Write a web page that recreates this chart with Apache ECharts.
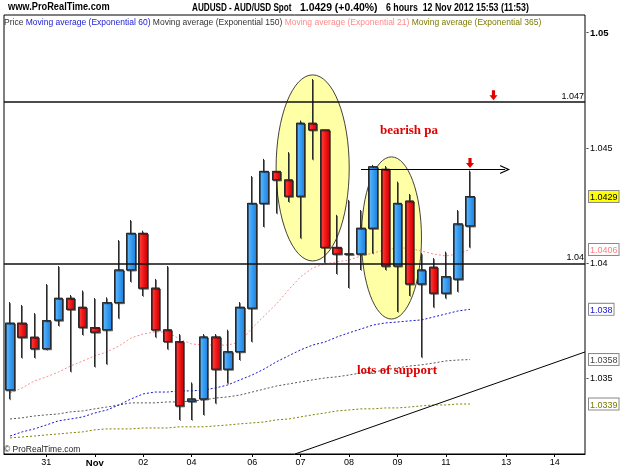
<!DOCTYPE html>
<html>
<head>
<meta charset="utf-8">
<title>AUDUSD - AUD/USD Spot 6 hours</title>
<script src="https://cdn.jsdelivr.net/npm/echarts@6/dist/echarts.min.js"></script>
<style>
  html, body { margin: 0; padding: 0; background: #fff; }
  #chart { width: 625px; height: 469px; }
</style>
</head>
<body>
<div id="chart"></div>
<script>
// AUD/USD, 6 hour bars, 30 Oct - 12 Nov 2012 (x = bar slot)
const opens = [1.03450, 1.03740, 1.03679, 1.03629, 1.03753, 1.03848, 1.03809, 1.03721, 1.03711, 1.03829,
  1.03971, 1.04130, 1.03892, 1.03711, 1.03660, 1.03401, 1.03411, 1.03680, 1.03540, 1.03616,
  1.03805, 1.04260, 1.04399, 1.04362, 1.04291, 1.04608, 1.04579, 1.04069, 1.04040, 1.04040,
  1.04152, 1.04408, 1.03988, 1.04270, 1.03910, 1.03983, 1.03870, 1.03931, 1.04162];
const highs = [1.03831, 1.03819, 1.03783, 1.03910, 1.03988, 1.03862, 1.03881, 1.03849, 1.03851, 1.04101,
  1.04188, 1.04141, 1.03932, 1.03988, 1.03692, 1.03482, 1.03692, 1.03692, 1.03711, 1.03831,
  1.04379, 1.04453, 1.04399, 1.04482, 1.04619, 1.04800, 1.04579, 1.04210, 1.04275, 1.04231,
  1.04427, 1.04422, 1.04354, 1.04301, 1.04043, 1.04022, 1.04050, 1.04231, 1.04402];
const lows = [1.03410, 1.03590, 1.03590, 1.03625, 1.03729, 1.03530, 1.03689, 1.03551, 1.03562, 1.03761,
  1.03920, 1.03858, 1.03679, 1.03627, 1.03320, 1.03320, 1.03342, 1.03392, 1.03479, 1.03580,
  1.03660, 1.04159, 1.04217, 1.04267, 1.04109, 1.04451, 1.04003, 1.03954, 1.03893, 1.03971,
  1.04043, 1.03971, 1.03790, 1.03859, 1.03592, 1.03809, 1.03848, 1.03877, 1.04069];
const closes = [1.03740, 1.03679, 1.03629, 1.03751, 1.03848, 1.03800, 1.03722, 1.03701, 1.03829, 1.03971,
  1.04130, 1.03892, 1.03711, 1.03660, 1.03381, 1.03411, 1.03680, 1.03540, 1.03616, 1.03809,
  1.04260, 1.04399, 1.04362, 1.04291, 1.04608, 1.04579, 1.04069, 1.04040, 1.04040, 1.04152,
  1.04419, 1.03988, 1.04260, 1.03910, 1.03971, 1.03870, 1.03942, 1.04171, 1.04290];

// moving averages
const ema21 = [1.03437, 1.03459, 1.03489, 1.03507, 1.03528, 1.03554, 1.03576, 1.03598, 1.03615, 1.03641,
  1.03676, 1.03693, 1.03702, 1.03702, 1.03671, 1.03650, 1.03645, 1.03645, 1.03645, 1.03658,
  1.03719, 1.03771, 1.03823, 1.03884, 1.03941, 1.03980, 1.03997, 1.04006, 1.04014, 1.04032,
  1.04045, 1.04058, 1.04066, 1.04066, 1.04053, 1.04040, 1.04032, 1.04040, 1.04060];
const ema60 = [1.03250, 1.03268, 1.03281, 1.03298, 1.03316, 1.03324, 1.03333, 1.03350, 1.03363, 1.03385,
  1.03411, 1.03433, 1.03441, 1.03441, 1.03446, 1.03446, 1.03450, 1.03459, 1.03472, 1.03494,
  1.03515, 1.03541, 1.03572, 1.03598, 1.03624, 1.03645, 1.03658, 1.03680, 1.03698, 1.03715,
  1.03732, 1.03741, 1.03745, 1.03750, 1.03754, 1.03767, 1.03780, 1.03793, 1.03800];
const ema150 = [1.03324, 1.03329, 1.03337, 1.03342, 1.03346, 1.03355, 1.03359, 1.03368, 1.03376, 1.03385,
  1.03394, 1.03394, 1.03394, 1.03398, 1.03398, 1.03402, 1.03407, 1.03415, 1.03420, 1.03428,
  1.03441, 1.03454, 1.03467, 1.03476, 1.03485, 1.03494, 1.03502, 1.03507, 1.03515, 1.03524,
  1.03528, 1.03537, 1.03546, 1.03554, 1.03559, 1.03567, 1.03576, 1.03580, 1.03582];
const ema365 = [1.03242, 1.03246, 1.03250, 1.03255, 1.03259, 1.03264, 1.03268, 1.03277, 1.03281, 1.03281,
  1.03281, 1.03285, 1.03285, 1.03285, 1.03290, 1.03290, 1.03290, 1.03294, 1.03298, 1.03303,
  1.03307, 1.03311, 1.03320, 1.03324, 1.03333, 1.03342, 1.03350, 1.03359, 1.03363, 1.03368,
  1.03368, 1.03372, 1.03372, 1.03376, 1.03381, 1.03385, 1.03385, 1.03389, 1.03389];

const dayTicks = [3, 7, 11, 15, 20, 24, 28, 32, 36, 41, 45];
const dayLabels = ['31', 'Nov', '02', '04', '06', '07', '08', '09', '11', '13', '14'];
const priceTicks = [1.035, 1.04, 1.045, 1.05];

// drawn-on annotations (slot, price)
const resistance = 1.047;
const support = 1.04;
const trendLine = [[23.54, 1.03172], [47.5, 1.03615]];
const swingLine = [[29.0, 1.04407], [40.9, 1.04407]];
const downArrows = [[39.94, 1.04730], [38.0, 1.04435]];
const zones = [
  { x: 25.0, y: 1.04414, rx: 3.02, ry: 0.00404 },
  { x: 31.51, y: 1.04110, rx: 2.48, ry: 0.00352 }
];
const notes = [
  { text: 'bearish pa', x: 32.96, y: 1.04574 },
  { text: 'lots of support', x: 31.97, y: 1.03533 }
];

const FONT = '"Liberation Sans", Arial, sans-serif';
const X0 = -0.5, X1 = 47.5, Y0 = 1.03172, Y1 = 1.05078;

const chart = echarts.init(document.getElementById('chart'));

const last = arr => arr[arr.length - 1];
const fmt = v => String(parseFloat(v.toFixed(4)));
const pts = arr => arr.map((v, i) => [i, v]);

// last-value tags on the right: price first, then the averages
const tags = [
  { value: last(closes), color: '#000', bg: '#ffff00' },
  { value: last(ema21), color: '#ff8080', bg: '#fff' },
  { value: last(ema60), color: '#1515cc', bg: '#fff' },
  { value: last(ema150), color: '#444', bg: '#fff' },
  { value: last(ema365), color: '#7a7a00', bg: '#fff' }
];
const tagRich = {};
tags.forEach((t, i) => {
  tagRich['t' + i] = { color: t.color, backgroundColor: t.bg, borderColor: '#8a8a8a', borderWidth: 1,
    padding: [2, 1, 0, 1], fontFamily: FONT, fontSize: 9, lineHeight: 10 };
});
function tagIndex(v) {
  let best = 0;
  tags.forEach((t, i) => { if (Math.abs(t.value - v) < Math.abs(tags[best].value - v)) best = i; });
  return best;
}

function emaSeries(name, arr, color) {
  return {
    name: name, type: 'line', data: pts(arr), symbol: 'none', z: 3,
    lineStyle: { color: color, width: 1, type: [2, 2] }
  };
}

const hline = (v, label) => [
  { coord: [X0, v], lineStyle: { color: '#111', width: 1.5, type: 'solid' },
    label: { show: true, position: 'insideEndTop', distance: 1, formatter: label } },
  { coord: [X1, v] }
];

const option = {
  animation: false,
  grid: { left: 4, right: 40, top: 15, bottom: 15, show: true, borderColor: '#000', borderWidth: 1 },
  xAxis: {
    type: 'value', min: X0, max: X1,
    splitLine: { show: false },
    axisLine: { lineStyle: { color: '#000' } },
    axisTick: { customValues: dayTicks, length: 3, lineStyle: { color: '#000' } },
    axisLabel: {
      customValues: dayTicks, margin: 4, color: '#000', fontFamily: FONT, fontSize: 9,
      formatter: v => {
        const t = dayLabels[dayTicks.indexOf(v)];
        return t === 'Nov' ? '{b|Nov}' : t;
      },
      rich: { b: { fontWeight: 'bold', fontFamily: FONT, fontSize: 9.5, color: '#000' } }
    }
  },
  yAxis: [
    {
      type: 'value', position: 'right', min: Y0, max: Y1,
      splitLine: { show: false },
      axisLine: { show: false },
      axisTick: { show: false },
      axisLabel: {
        // the short dash is the tick mark
        customValues: priceTicks, margin: 1, color: '#000', fontFamily: FONT, fontSize: 9,
        formatter: v => '{d|-}' + (v === 1.05 ? '{b|' + fmt(v) + '}' : fmt(v)),
        rich: {
          d: { fontFamily: FONT, fontSize: 9, color: '#000', padding: [0, 1, 0, 0] },
          b: { fontWeight: 'bold', fontFamily: FONT, fontSize: 9.5, color: '#000' }
        }
      }
    },
    {
      type: 'value', position: 'right', min: Y0, max: Y1,
      splitLine: { show: false },
      axisLine: { show: false },
      axisTick: { show: false },
      axisLabel: {
        customValues: tags.map(t => t.value), margin: 4,
        formatter: v => { const i = tagIndex(v); return '{t' + i + '|' + fmt(tags[i].value) + '}'; },
        rich: tagRich
      }
    }
  ],
  series: [
    emaSeries('Exponential 365', ema365, '#808000'),
    emaSeries('Exponential 150', ema150, '#555555'),
    emaSeries('Exponential 60', ema60, '#1515cc'),
    emaSeries('Exponential 21', ema21, '#ff8c8c'),
    {
      name: 'Price', type: 'candlestick', z: 4, barWidth: 9,
      encode: { x: 0, y: [1, 2, 3, 4] },
      data: opens.map((o, i) => [i, o, closes[i], lows[i], highs[i]]),
      itemStyle: {
        color: new echarts.graphic.LinearGradient(0, 0, 1, 0, [
          { offset: 0, color: '#6cc0ff' }, { offset: 0.5, color: '#3a9ff2' }, { offset: 1, color: '#1d7fdc' }]),
        color0: new echarts.graphic.LinearGradient(0, 0, 1, 0, [
          { offset: 0, color: '#ff5050' }, { offset: 0.5, color: '#f41a1a' }, { offset: 1, color: '#c60000' }]),
        borderColor: '#2a2a2a', borderColor0: '#2a2a2a', borderColorDoji: '#2a2a2a', borderWidth: 1,
        shadowColor: 'rgba(0,0,0,0.3)', shadowOffsetX: 1, shadowOffsetY: 1
      },
      markPoint: {
        silent: true, animation: false,
        symbol: 'path://M3,0 L7,0 L7,5 L10,5 L5,10 L0,5 L3,5 Z', symbolSize: [8, 10],
        itemStyle: { color: '#e00000' }, label: { show: false },
        data: downArrows.map(c => ({ coord: c }))
      }
    },
    {
      // hand-drawn lines
      name: 'lines', type: 'line', data: [], z: 5, clip: false,
      markLine: {
        silent: true, animation: false, symbol: ['none', 'none'],
        label: { show: false, fontFamily: FONT, fontSize: 9, color: '#000' },
        data: [
          hline(resistance, fmt(resistance)),
          hline(support, fmt(support)),
          [{ coord: trendLine[0], lineStyle: { color: '#000', width: 1, type: 'solid' } },
           { coord: trendLine[1] }],
          [{ coord: swingLine[0], symbol: 'none', lineStyle: { color: '#000', width: 1, type: 'solid' } },
           { coord: swingLine[1], symbol: 'path://M0,10 L5,0 L10,10 L8.6,10 L5,2.8 L1.4,10 Z', symbolSize: [9, 10] }]
        ]
      }
    }
  ]
};

chart.setOption(option);

const toPx = p => chart.convertToPixel({ gridIndex: 0 }, p);
const HEAD = 'bold 11px ' + FONT;

const elements = [
  { type: 'text', x: 8, y: 2, z: 10, scaleX: 0.88, style: { text: 'www.ProRealTime.com', font: 'bold 10.5px ' + FONT, fill: '#000' } },
  { type: 'text', x: 192, y: 2, z: 10, scaleX: 0.74, style: { text: 'AUDUSD - AUD/USD Spot', font: HEAD, fill: '#000' } },
  { type: 'text', x: 300, y: 2, z: 10, scaleX: 0.95, style: { text: fmt(last(closes)) + ' (+0.40%)', font: HEAD, fill: '#000' } },
  { type: 'text', x: 386, y: 2, z: 10, scaleX: 0.8, style: { text: '6 hours  12 Nov 2012 15:53 (11:53)', font: HEAD, fill: '#000' } },
  { type: 'text', x: 4, y: 18, z: 10, style: {
      text: '{k|Price }{b|Moving average (Exponential 60)}{k| Moving average (Exponential 150)}{p| Moving average (Exponential 21)}{o| Moving average (Exponential 365)}',
      font: '8.5px ' + FONT,
      rich: {
        k: { fill: '#333', fontSize: 8.5, fontFamily: FONT },
        b: { fill: '#1a1ad0', fontSize: 8.5, fontFamily: FONT },
        p: { fill: '#ff8a8a', fontSize: 8.5, fontFamily: FONT },
        o: { fill: '#7a7a00', fontSize: 8.5, fontFamily: FONT }
      }
    } },
  { type: 'text', x: 4, y: 445, z: 10, style: { text: '\u00a9 ProRealTime.com', font: '8.5px ' + FONT, fill: '#222' } }
];

zones.forEach(a => {
  const c = toPx([a.x, a.y]);
  const e = toPx([a.x + a.rx, a.y + a.ry]);
  elements.push({
    type: 'ellipse', z: 1, silent: true,
    shape: { cx: c[0], cy: c[1], rx: e[0] - c[0], ry: c[1] - e[1] },
    style: { fill: '#ffffa6', stroke: '#111', lineWidth: 0.8 }
  });
});

notes.forEach(n => {
  const c = toPx([n.x, n.y]);
  elements.push({
    type: 'text', x: c[0], y: c[1], z: 10, silent: true,
    style: { text: n.text, font: 'bold 13px "Liberation Serif", "Times New Roman", serif', fill: '#e00000',
      align: 'center', verticalAlign: 'middle' }
  });
});

chart.setOption({ graphic: { elements: elements } });
</script>
</body>
</html>
